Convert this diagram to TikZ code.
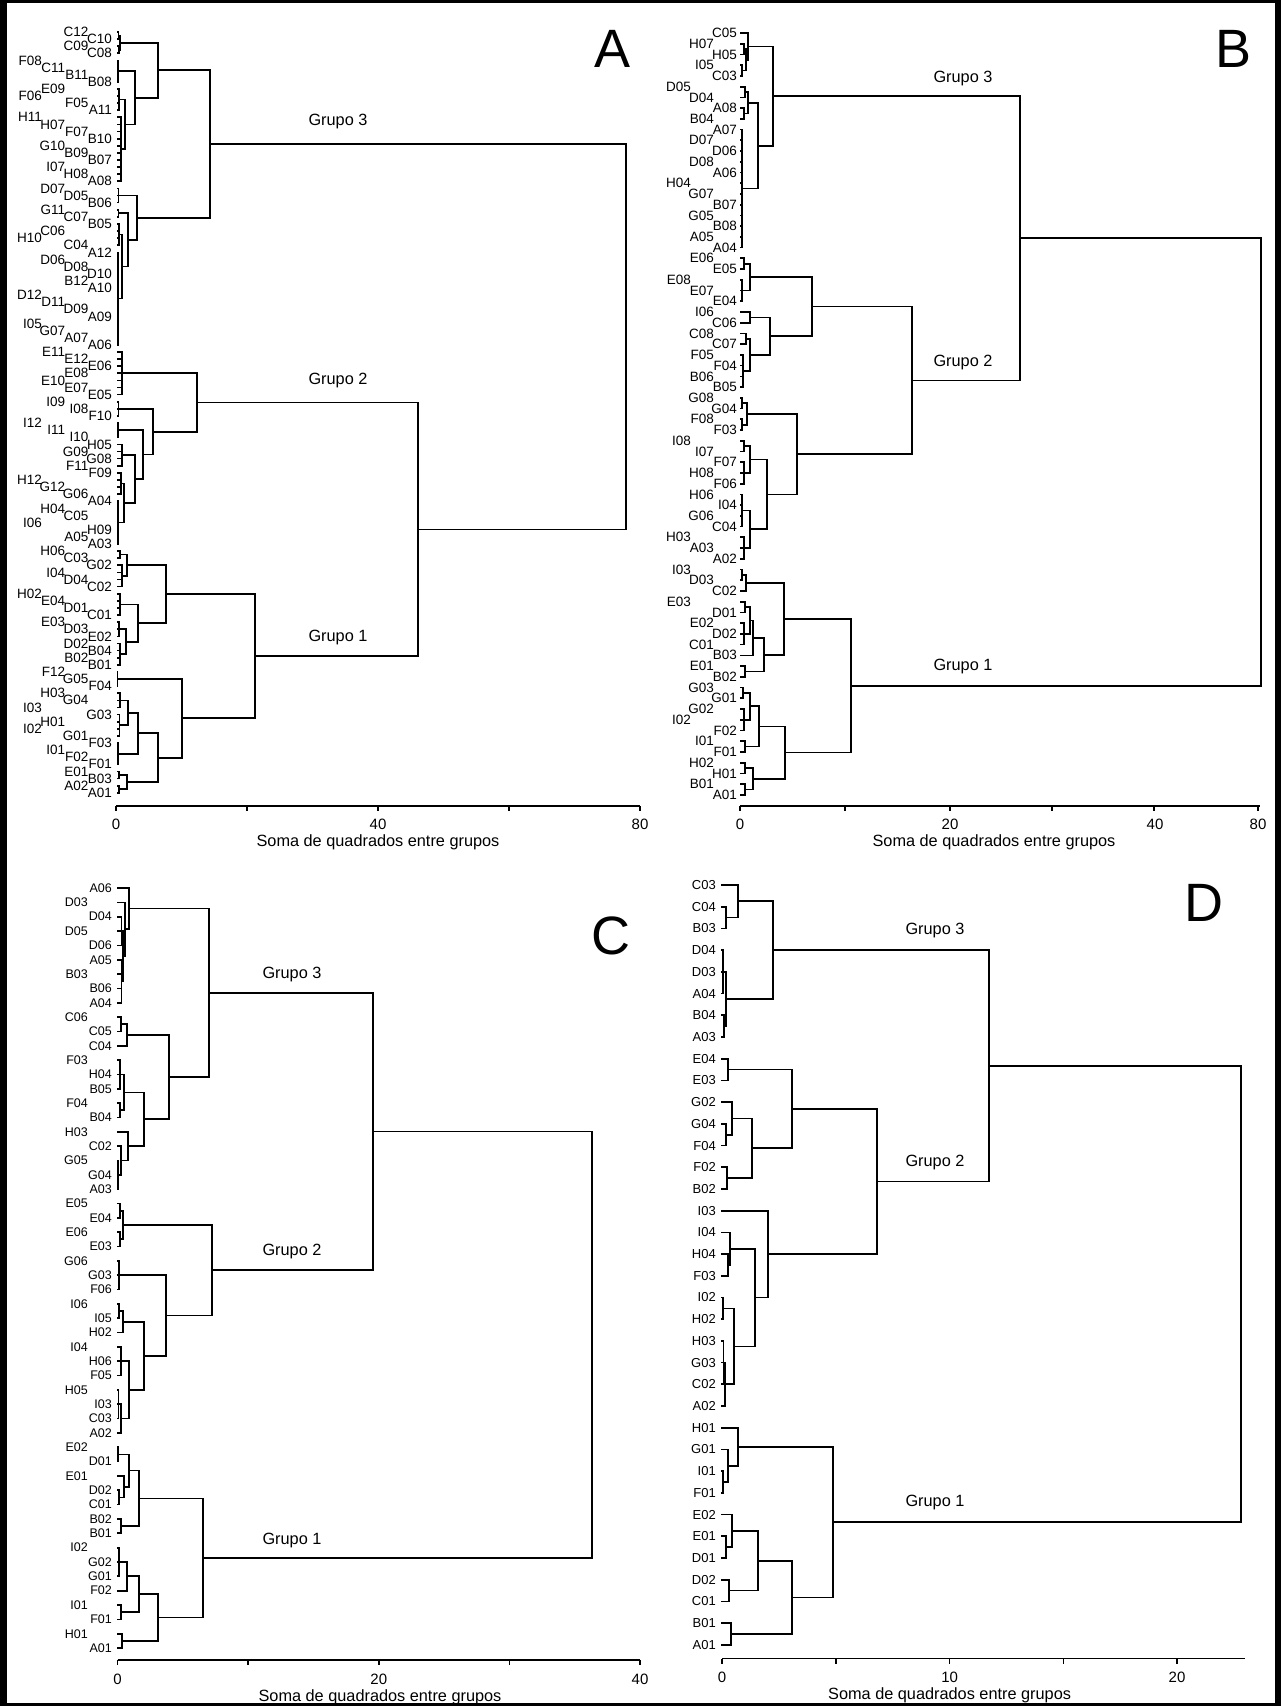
\documentclass[tikz,border=0pt]{standalone}
\usepackage{fontspec}
\setmainfont{Liberation Sans}
\usetikzlibrary{calc}

\tikzset{
  tree/.style={line width=1.7pt},
  axisline/.style={line width=1.7pt},
  leaflab/.style={anchor=east, inner sep=0pt},
  ticklab/.style={inner sep=0pt, font=\fontsize{15}{16}\selectfont},
  axtitle/.style={inner sep=0pt, font=\fontsize{16.3}{17}\selectfont},
  grplab/.style={inner sep=0pt, font=\fontsize{16.3}{17}\selectfont},
  panlab/.style={inner sep=0pt, font=\fontsize{54}{56}\selectfont}
}

% current panel: leaf start x, first leaf y, leaf spacing
\newcommand\setpanel[3]{\def\PX{#1}\def\PY{#2}\def\PD{#3}}
% cluster of consecutive leaves #2..#3 joined at height #4
\newcommand\cl[4]{%
  \foreach \k in {#2,...,#3}{\draw[tree] (\PX,{\PY+(\k-1)*\PD}) -- (#4,{\PY+(\k-1)*\PD});}%
  \ifnum#2<#3\relax
    \draw[tree,line cap=rect] (#4,{\PY+(#2-1)*\PD}) -- (#4,{\PY+(#3-1)*\PD});%
  \fi
  \coordinate (#1) at (#4,{\PY+(#2+#3-2)*\PD/2});%
}
% merge of two clusters at height #4
\newcommand\mg[4]{%
  \coordinate (mgh) at (#4,0);%
  \draw[tree] (#2) -- (#2 -| mgh) -- (#3 -| mgh) -- (#3);%
  \coordinate (#1) at ($(#2 -| mgh)!.5!(#3 -| mgh)$);%
}

\begin{document}
\begin{tikzpicture}[x=1pt,y=-1pt]
\useasboundingbox (0,0) rectangle (1281,1706);
\fill[white] (0,0) rectangle (1281,1706);
% frame
\draw[line width=2.5pt] (1.5,1.5) rectangle (1279.5,1704.5);
\draw[line width=7pt] (3.5,0) -- (3.5,1706);
\draw[line width=6pt] (1278,0) -- (1278,1706);

%================ Panel A ================
\setpanel{117}{32}{7.11}
\foreach \t/\c [count=\i] in {C12/3, C10/4, C09/3, C08/4, F08/1, C11/2, B11/3, B08/4, E09/2, F06/1,
  F05/3, A11/4, H11/1, H07/2, F07/3, B10/4, G10/2, B09/3, B07/4, I07/2,
  H08/3, A08/4, D07/2, D05/3, B06/4, G11/2, C07/3, B05/4, C06/2, H10/1,
  C04/3, A12/4, D06/2, D08/3, D10/4, B12/3, A10/4, D12/1, D11/2, D09/3,
  A09/4, I05/1, G07/2, A07/3, A06/4, E11/2, E12/3, E06/4, E08/3, E10/2,
  E07/3, E05/4, I09/2, I08/3, F10/4, I12/1, I11/2, I10/3, H05/4, G09/3,
  G08/4, F11/3, F09/4, H12/1, G12/2, G06/3, A04/4, H04/2, C05/3, I06/1,
  H09/4, A05/3, A03/4, H06/2, C03/3, G02/4, I04/2, D04/3, C02/4, H02/1,
  E04/2, D01/3, C01/4, E03/2, D03/3, E02/4, D02/3, B04/4, B02/3, B01/4,
  F12/2, G05/3, F04/4, H03/2, G04/3, I03/1, G03/4, H01/2, I02/1, G01/3,
  F03/4, I01/2, F02/3, F01/4, E01/3, B03/4, A02/3, A01/4}
  \node[leaflab, font=\fontsize{13.5}{14}\selectfont] (la-\t) at ({112-(4-\c)*23.3},{32+(\i-1)*7.11}) {\t};
% Grupo 3
\cl{a1}{1}{2}{118.5}
\cl{a2}{3}{4}{119}
\mg{a3}{a1}{a2}{120}
\cl{a4}{5}{8}{118}
\cl{a5}{9}{12}{119}
\cl{a6}{13}{22}{121}
\mg{a7}{a5}{a6}{125}
\mg{a8}{a4}{a7}{135}
\mg{a9}{a3}{a8}{158}
\cl{a10}{23}{25}{118.5}
\cl{a11}{26}{27}{118.5}
\cl{a12}{28}{31}{119}
\cl{a13}{32}{45}{118}
\mg{a14}{a12}{a13}{122}
\mg{a15}{a11}{a14}{128}
\mg{a16}{a10}{a15}{137}
\mg{aG3}{a9}{a16}{210}
% Grupo 2
\cl{a20}{46}{52}{122}
\cl{a21}{53}{55}{118.5}
\cl{a22}{56}{58}{118}
\cl{a23}{59}{62}{122}
\cl{a24}{63}{66}{121}
\cl{a25}{67}{73}{118}
\mg{a26}{a24}{a25}{124}
\mg{a27}{a23}{a26}{135}
\mg{a28}{a22}{a27}{143}
\mg{a29}{a21}{a28}{153}
\mg{aG2}{a20}{a29}{197}
% Grupo 1
\cl{a30}{74}{75}{120}
\cl{a31}{76}{79}{122}
\mg{a32}{a30}{a31}{127}
\cl{a33}{80}{83}{120}
\cl{a34}{84}{86}{119}
\cl{a35}{87}{90}{120}
\mg{a36}{a34}{a35}{126}
\mg{a37}{a33}{a36}{138}
\mg{a38}{a32}{a37}{166}
\cl{a39}{91}{93}{117.5}
\cl{a40}{94}{96}{120}
\cl{a41}{97}{100}{119.5}
\mg{a42}{a40}{a41}{128}
\cl{a43}{101}{104}{118}
\mg{a44}{a42}{a43}{138}
\cl{a45}{105}{106}{119}
\cl{a46}{107}{108}{119}
\mg{a47}{a45}{a46}{127}
\mg{a48}{a44}{a47}{158}
\mg{a49}{a39}{a48}{182}
\mg{aG1}{a38}{a49}{255}
\mg{a50}{aG2}{aG1}{418}
\mg{aR}{aG3}{a50}{626}
\node[grplab] (ga3) at (338,121) {Grupo 3};
\node[grplab] (ga2) at (338,380) {Grupo 2};
\node[grplab] (ga1) at (338,637) {Grupo 1};
\node[panlab] (pA) at (613,49) {A};
% axis A
\draw[axisline] (116,806) -- (640,806);
\foreach \x in {116,247,378,509,640} \draw[axisline] (\x,806) -- (\x,811);
\node[ticklab] (tA0) at (116,824) {0};
\node[ticklab] (tA40) at (378,824) {40};
\node[ticklab] (tA80) at (640,824) {80};
\node[axtitle] (xA) at (378,842) {Soma de quadrados entre grupos};

%================ Panel B ================
\setpanel{740}{33}{10.73}
\foreach \t/\c [count=\i] in {C05/4, H07/3, H05/4, I05/3, C03/4, D05/2, D04/3, A08/4, B04/3, A07/4,
  D07/3, D06/4, D08/3, A06/4, H04/2, G07/3, B07/4, G05/3, B08/4, A05/3,
  A04/4, E06/3, E05/4, E08/2, E07/3, E04/4, I06/3, C06/4, C08/3, C07/4,
  F05/3, F04/4, B06/3, B05/4, G08/3, G04/4, F08/3, F03/4, I08/2, I07/3,
  F07/4, H08/3, F06/4, H06/3, I04/4, G06/3, C04/4, H03/2, A03/3, A02/4,
  I03/2, D03/3, C02/4, E03/2, D01/4, E02/3, D02/4, C01/3, B03/4, E01/3,
  B02/4, G03/3, G01/4, G02/3, I02/2, F02/4, I01/3, F01/4, H02/3, H01/4,
  B01/3, A01/4}
  \node[leaflab, font=\fontsize{13.5}{14}\selectfont] (lb-\t) at ({737-(4-\c)*23},{33+(\i-1)*10.73}) {\t};
% Grupo 3
\cl{b1}{1}{1}{740}
\cl{b2}{2}{3}{744}
\cl{b3}{4}{5}{742}
\mg{b4}{b2}{b3}{746}
\mg{b5}{b1}{b4}{748}
\cl{b6}{6}{7}{745}
\cl{b7}{8}{9}{744}
\mg{b8}{b6}{b7}{748}
\cl{b9}{10}{21}{742}
\mg{b10}{b8}{b9}{758}
\mg{bG3}{b5}{b10}{773}
% Grupo 2
\cl{b11}{22}{23}{744}
\cl{b12}{24}{26}{742}
\mg{b13}{b11}{b12}{750}
\cl{b14}{27}{28}{750}
\cl{b15}{29}{30}{746}
\cl{b16}{31}{34}{743}
\mg{b17}{b15}{b16}{750}
\mg{b18}{b14}{b17}{770}
\mg{b19}{b13}{b18}{812}
\cl{b20}{35}{36}{742}
\cl{b21}{37}{38}{742}
\mg{b22}{b20}{b21}{747}
\cl{b23}{39}{40}{744}
\cl{b24}{41}{43}{744}
\mg{b25}{b23}{b24}{750}
\cl{b26}{44}{47}{742}
\cl{b27}{48}{50}{744}
\mg{b28}{b26}{b27}{750}
\mg{b29}{b25}{b28}{767}
\mg{b30}{b22}{b29}{797}
\mg{bG2}{b19}{b30}{912}
\mg{b31}{bG3}{bG2}{1020}
% Grupo 1
\cl{b32}{51}{52}{742}
\cl{b33}{53}{53}{740}
\mg{b34}{b32}{b33}{746}
\cl{b35}{54}{55}{745}
\cl{b36}{56}{58}{744}
\mg{b37}{b35}{b36}{750}
\cl{b38}{59}{59}{740}
\mg{b39}{b37}{b38}{753}
\cl{b40}{60}{61}{745}
\mg{b41}{b39}{b40}{764}
\mg{b42}{b34}{b41}{784}
\cl{b43}{62}{63}{743}
\cl{b44}{64}{66}{744}
\mg{b45}{b43}{b44}{750}
\cl{b46}{67}{68}{745}
\mg{b47}{b45}{b46}{759}
\cl{b48}{69}{70}{745}
\cl{b49}{71}{72}{745}
\mg{b50}{b48}{b49}{753}
\mg{b51}{b47}{b50}{785}
\mg{bG1}{b42}{b51}{851}
\mg{bR}{b31}{bG1}{1261}
\node[grplab] (gb3) at (963,78) {Grupo 3};
\node[grplab] (gb2) at (963,362) {Grupo 2};
\node[grplab] (gb1) at (963,666) {Grupo 1};
\node[panlab] (pB) at (1233,49) {B};
% axis B
\draw[axisline] (740,806) -- (1260,806);
\foreach \x in {740,845,950,1052,1154,1258} \draw[axisline] (\x,806) -- (\x,811);
\node[ticklab] (tB0) at (740,824) {0};
\node[ticklab] (tB20) at (950,824) {20};
\node[ticklab] (tB40) at (1155,824) {40};
\node[ticklab] (tB80) at (1258,824) {80};
\node[axtitle] (xB) at (994,842) {Soma de quadrados entre grupos};

%================ Panel C ================
\setpanel{117}{888}{14.34}
\foreach \t/\c [count=\i] in {A06/2, D03/1, D04/2, D05/1, D06/2, A05/2, B03/1, B06/2, A04/2, C06/1,
  C05/2, C04/2, F03/1, H04/2, B05/2, F04/1, B04/2, H03/1, C02/2, G05/1,
  G04/2, A03/2, E05/1, E04/2, E06/1, E03/2, G06/1, G03/2, F06/2, I06/1,
  I05/2, H02/2, I04/1, H06/2, F05/2, H05/1, I03/2, C03/2, A02/2, E02/1,
  D01/2, E01/1, D02/2, C01/2, B02/2, B01/2, I02/1, G02/2, G01/2, F02/2,
  I01/1, F01/2, H01/1, A01/2}
  \node[leaflab, font=\fontsize{12.5}{13}\selectfont] (lc-\t) at ({112-(2-\c)*24},{888+(\i-1)*14.34}) {\t};
% Grupo 3
\cl{c1}{1}{1}{117}
\cl{c2}{2}{2}{117}
\cl{c3}{3}{5}{121.5}
\cl{c4}{6}{9}{121.5}
\mg{c5}{c3}{c4}{123}
\mg{c6}{c2}{c5}{125}
\mg{c7}{c1}{c6}{129}
\cl{c8}{10}{11}{121}
\cl{c9}{12}{12}{117}
\mg{c10}{c8}{c9}{127}
\cl{c11}{13}{15}{120}
\cl{c12}{16}{17}{120}
\mg{c13}{c11}{c12}{124}
\cl{c14}{18}{18}{117}
\cl{c15}{19}{19}{117}
\cl{c16}{20}{22}{118}
\mg{c17}{c15}{c16}{121}
\mg{c18}{c14}{c17}{128}
\mg{c19}{c13}{c18}{144}
\mg{c20}{c10}{c19}{169}
\mg{cG3}{c7}{c20}{209}
% Grupo 2
\cl{c21}{23}{24}{120}
\cl{c22}{25}{26}{120}
\mg{c23}{c21}{c22}{123}
\cl{c24}{27}{29}{119}
\cl{c25}{30}{31}{119}
\cl{c26}{32}{32}{117}
\mg{c27}{c25}{c26}{123}
\cl{c28}{33}{35}{121}
\cl{c29}{36}{38}{118.5}
\cl{c30}{39}{39}{117}
\mg{c31}{c29}{c30}{121}
\mg{c32}{c28}{c31}{129}
\mg{c33}{c27}{c32}{144}
\mg{c34}{c24}{c33}{166}
\mg{cG2}{c23}{c34}{212}
\mg{c35}{cG3}{cG2}{373}
% Grupo 1
\cl{c36}{40}{41}{118}
\cl{c37}{42}{42}{117}
\cl{c38}{43}{44}{119}
\mg{c39}{c37}{c38}{124}
\mg{c40}{c36}{c39}{129}
\cl{c41}{45}{46}{121}
\mg{c42}{c40}{c41}{139}
\cl{c43}{47}{49}{119}
\cl{c44}{50}{50}{117}
\mg{c45}{c43}{c44}{127}
\cl{c46}{51}{52}{121}
\mg{c47}{c45}{c46}{139}
\cl{c48}{53}{54}{122}
\mg{c49}{c47}{c48}{158}
\mg{cG1}{c42}{c49}{203}
\mg{cR}{c35}{cG1}{592}
\node[grplab] (gc3) at (292,974) {Grupo 3};
\node[grplab] (gc2) at (292,1251) {Grupo 2};
\node[grplab] (gc1) at (292,1540) {Grupo 1};
\node[panlab] (pC) at (611,936) {C};
% axis C
\draw[axisline] (117.5,1660) -- (640,1660);
\foreach \x in {117.5,248,378.8,509.4,640} \draw[axisline] (\x,1660) -- (\x,1665);
\node[ticklab] (tC0) at (117.5,1679) {0};
\node[ticklab] (tC20) at (378.8,1679) {20};
\node[ticklab] (tC40) at (640,1679) {40};
\node[axtitle] (xC) at (380,1697.5) {Soma de quadrados entre grupos};

%================ Panel D ================
\setpanel{721}{885}{21.71}
\foreach \t [count=\i] in {C03, C04, B03, D04, D03, A04, B04, A03, E04, E03,
  G02, G04, F04, F02, B02, I03, I04, H04, F03, I02,
  H02, H03, G03, C02, A02, H01, G01, I01, F01, E02,
  E01, D01, D02, C01, B01, A01}
  \node[leaflab, font=\fontsize{13}{14}\selectfont] (ld-\t) at (716,{885+(\i-1)*21.71}) {\t};
% Grupo 3
\cl{d1}{1}{1}{721}
\cl{d2}{2}{3}{726}
\mg{d3}{d1}{d2}{738}
\cl{d4}{4}{6}{723}
\cl{d5}{7}{8}{724}
\mg{d6}{d4}{d5}{726}
\mg{dG3}{d3}{d6}{773}
% Grupo 2
\cl{d7}{9}{10}{728}
\cl{d8}{11}{11}{721}
\cl{d9}{12}{13}{726}
\mg{d10}{d8}{d9}{732}
\cl{d11}{14}{15}{727}
\mg{d12}{d10}{d11}{752}
\mg{d13}{d7}{d12}{792}
\cl{d14}{16}{16}{721}
\cl{d15}{17}{17}{721}
\cl{d16}{18}{19}{728}
\mg{d17}{d15}{d16}{730}
\cl{d18}{20}{21}{723}
\cl{d19}{22}{24}{723.5}
\cl{d20}{25}{25}{721}
\mg{d21}{d19}{d20}{725}
\mg{d22}{d18}{d21}{734}
\mg{d23}{d17}{d22}{755}
\mg{d24}{d14}{d23}{768}
\mg{dG2}{d13}{d24}{877}
\mg{d25}{dG3}{dG2}{989}
% Grupo 1
\cl{d26}{26}{26}{721}
\cl{d27}{27}{27}{721}
\cl{d28}{28}{29}{723}
\mg{d29}{d27}{d28}{728}
\mg{d30}{d26}{d29}{738}
\cl{d31}{30}{30}{721}
\cl{d32}{31}{32}{726}
\mg{d33}{d31}{d32}{732}
\cl{d34}{33}{34}{729}
\mg{d35}{d33}{d34}{758}
\cl{d36}{35}{36}{731}
\mg{d37}{d35}{d36}{792}
\mg{dG1}{d30}{d37}{833}
\mg{dR}{d25}{dG1}{1241}
\node[grplab] (gd3) at (935,930) {Grupo 3};
\node[grplab] (gd2) at (935,1162) {Grupo 2};
\node[grplab] (gd1) at (935,1502) {Grupo 1};
\node[panlab] (pD) at (1204,903) {D};
% axis D
\draw[axisline] (722,1658.5) -- (1245,1658.5);
\foreach \x in {722,835.8,949.6,1063.4,1177} \draw[axisline] (\x,1658.5) -- (\x,1663.5);
\node[ticklab] (tD0) at (722,1677) {0};
\node[ticklab] (tD10) at (949.6,1677) {10};
\node[ticklab] (tD20) at (1177,1677) {20};
\node[axtitle] (xD) at (949.6,1695.5) {Soma de quadrados entre grupos};
\end{tikzpicture}
\end{document}
